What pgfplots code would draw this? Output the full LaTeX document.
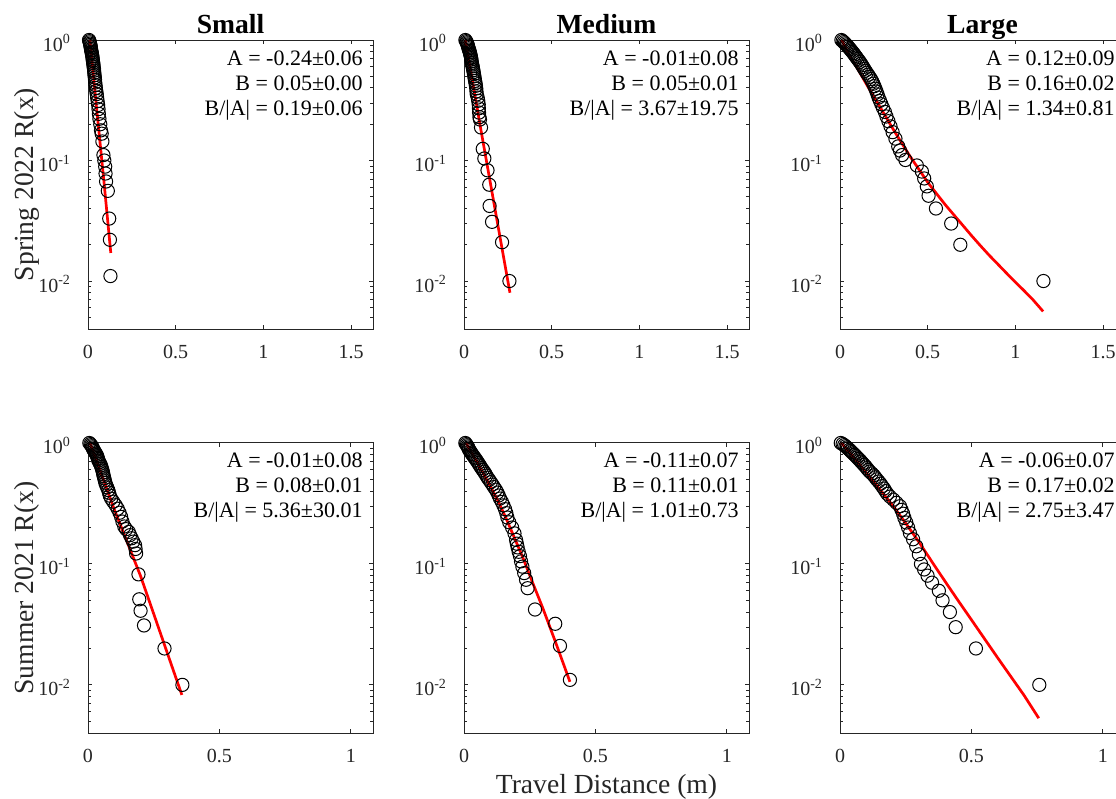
\documentclass[border=0pt]{standalone}
\usepackage{fontspec}
\setmainfont{Liberation Serif}
\usepackage{pgfplots}
\usepackage{pgfplotstable}
\pgfplotsset{compat=1.18}

\definecolor{axgray}{rgb}{0.15,0.15,0.15}
\definecolor{fitred}{rgb}{1,0,0}

\pgfplotsset{
  every axis/.append style={
    width=142.5pt, scale only axis,
    ymin=0.004, ymax=1, xmin=0,
    clip=false,
    ytick={0.01,0.1,1},
    yticklabels={10\textsuperscript{-2},10\textsuperscript{-1},10\textsuperscript{0}},
    minor ytick={0.004,0.005,0.006,0.007,0.008,0.009,0.02,0.03,0.04,0.05,0.06,0.07,0.08,0.09,0.2,0.3,0.4,0.5,0.6,0.7,0.8,0.9},
    axis line style={draw=axgray, line width=0.5pt},
    major tick length=2.2pt, minor tick length=1.6pt,
    tick align=inside,
    tick style={draw=axgray, line width=0.5pt},
    ticklabel style={font=\fontsize{10}{12}\selectfont, text=axgray},
    xticklabel style={anchor=base, yshift=-14.5pt},
    yticklabel style={anchor=base east, xshift=-5pt, yshift=-5.5pt},
    title style={font=\fontsize{13.8}{16}\selectfont\bfseries, at={(axis description cs:0.5,1)}, anchor=base, yshift=-2.5pt},
    ylabel style={font=\fontsize{13.8}{16}\selectfont, text=axgray, at={(axis description cs:-0.191,0.5)}, anchor=base},
    xlabel style={font=\fontsize{13.8}{16}\selectfont, text=axgray, at={(axis description cs:0.5,-0.2069)}, anchor=base},
  },
}
\tikzset{
  ranno/.style={anchor=base east, inner sep=0pt, font=\fontsize{11}{13}\selectfont, text=black, xshift=-5pt},
}

% Empirical exceedance R(x) per size class and season
\pgfplotstableread{
x R
0.006 1.000
0.008 0.978
0.010 0.956
0.012 0.933
0.013 0.911
0.015 0.889
0.016 0.867
0.017 0.844
0.018 0.822
0.020 0.800
0.022 0.778
0.023 0.756
0.025 0.733
0.026 0.711
0.027 0.689
0.028 0.667
0.030 0.644
0.031 0.622
0.032 0.600
0.034 0.578
0.035 0.556
0.036 0.533
0.037 0.511
0.039 0.489
0.040 0.467
0.041 0.444
0.043 0.422
0.045 0.400
0.047 0.378
0.050 0.356
0.052 0.333
0.055 0.311
0.058 0.289
0.060 0.267
0.062 0.244
0.065 0.222
0.070 0.200
0.074 0.178
0.078 0.167
0.082 0.144
0.088 0.111
0.093 0.100
0.098 0.089
0.100 0.078
0.103 0.067
0.113 0.056
0.121 0.033
0.125 0.022
0.128 0.011
}\SpSmall

\pgfplotstableread{
x R
0.008 1.000
0.012 0.979
0.015 0.958
0.018 0.938
0.020 0.917
0.022 0.896
0.024 0.875
0.026 0.854
0.028 0.833
0.031 0.813
0.033 0.792
0.035 0.771
0.037 0.750
0.039 0.729
0.041 0.708
0.042 0.688
0.043 0.667
0.045 0.646
0.047 0.625
0.049 0.604
0.051 0.583
0.053 0.563
0.055 0.542
0.057 0.521
0.059 0.500
0.061 0.479
0.063 0.458
0.066 0.438
0.068 0.417
0.070 0.396
0.071 0.375
0.073 0.354
0.078 0.333
0.081 0.313
0.084 0.292
0.085 0.271
0.086 0.250
0.088 0.229
0.091 0.219
0.097 0.188
0.107 0.125
0.116 0.104
0.134 0.083
0.144 0.063
0.146 0.042
0.160 0.031
0.217 0.021
0.259 0.010
}\SpMedium

\pgfplotstableread{
x R
0.008 1.000
0.015 0.980
0.022 0.960
0.028 0.939
0.034 0.919
0.040 0.899
0.046 0.879
0.052 0.859
0.058 0.838
0.064 0.818
0.070 0.798
0.076 0.778
0.082 0.758
0.088 0.737
0.094 0.717
0.100 0.697
0.107 0.677
0.113 0.657
0.120 0.636
0.126 0.616
0.132 0.596
0.138 0.576
0.145 0.556
0.152 0.535
0.160 0.515
0.168 0.495
0.176 0.475
0.183 0.455
0.190 0.434
0.196 0.414
0.202 0.394
0.208 0.374
0.214 0.354
0.220 0.333
0.228 0.313
0.236 0.293
0.245 0.273
0.256 0.253
0.265 0.232
0.276 0.212
0.288 0.192
0.300 0.172
0.316 0.152
0.332 0.131
0.342 0.121
0.354 0.111
0.373 0.101
0.438 0.091
0.467 0.081
0.480 0.071
0.495 0.061
0.505 0.051
0.547 0.040
0.634 0.030
0.686 0.020
1.160 0.010
}\SpLarge

\pgfplotstableread{
x R
0.005 1.000
0.009 0.980
0.012 0.959
0.015 0.939
0.017 0.918
0.019 0.898
0.021 0.878
0.024 0.857
0.027 0.837
0.030 0.816
0.033 0.796
0.035 0.776
0.037 0.755
0.038 0.735
0.040 0.714
0.043 0.694
0.046 0.673
0.049 0.653
0.051 0.633
0.053 0.612
0.055 0.592
0.057 0.571
0.058 0.551
0.060 0.531
0.062 0.510
0.064 0.490
0.066 0.469
0.069 0.449
0.073 0.429
0.077 0.408
0.080 0.388
0.083 0.367
0.088 0.347
0.096 0.327
0.105 0.306
0.113 0.286
0.120 0.265
0.126 0.245
0.131 0.224
0.138 0.204
0.145 0.194
0.155 0.184
0.160 0.173
0.166 0.163
0.172 0.153
0.179 0.143
0.181 0.133
0.183 0.122
0.192 0.082
0.195 0.051
0.200 0.041
0.213 0.031
0.291 0.020
0.359 0.010
}\SuSmall

\pgfplotstableread{
x R
0.005 1.000
0.008 0.979
0.011 0.958
0.014 0.937
0.016 0.916
0.018 0.895
0.020 0.874
0.024 0.853
0.027 0.832
0.030 0.811
0.034 0.789
0.038 0.768
0.042 0.747
0.046 0.726
0.050 0.705
0.054 0.684
0.058 0.663
0.062 0.642
0.066 0.621
0.071 0.600
0.076 0.579
0.081 0.558
0.085 0.537
0.090 0.516
0.096 0.495
0.102 0.474
0.108 0.453
0.114 0.432
0.121 0.411
0.127 0.389
0.132 0.368
0.137 0.347
0.144 0.326
0.150 0.305
0.156 0.284
0.161 0.263
0.165 0.242
0.172 0.221
0.183 0.200
0.192 0.179
0.198 0.158
0.201 0.147
0.204 0.137
0.208 0.126
0.213 0.116
0.217 0.105
0.222 0.095
0.229 0.084
0.236 0.074
0.242 0.063
0.270 0.042
0.347 0.032
0.365 0.021
0.403 0.011
}\SuMedium

\pgfplotstableread{
x R
0.003 1.00
0.010 0.98
0.016 0.96
0.021 0.94
0.026 0.92
0.030 0.90
0.036 0.88
0.040 0.86
0.045 0.84
0.050 0.82
0.055 0.80
0.060 0.78
0.065 0.76
0.070 0.74
0.076 0.72
0.080 0.70
0.086 0.68
0.091 0.66
0.097 0.64
0.102 0.62
0.107 0.60
0.113 0.58
0.121 0.56
0.128 0.54
0.134 0.52
0.140 0.50
0.147 0.48
0.154 0.46
0.160 0.44
0.167 0.42
0.173 0.40
0.180 0.38
0.190 0.36
0.203 0.34
0.215 0.32
0.228 0.30
0.234 0.28
0.240 0.26
0.245 0.24
0.252 0.22
0.259 0.20
0.266 0.18
0.278 0.16
0.290 0.14
0.300 0.12
0.308 0.10
0.320 0.09
0.333 0.08
0.350 0.07
0.376 0.06
0.390 0.05
0.418 0.04
0.440 0.03
0.517 0.02
0.758 0.01
}\SuLarge

\begin{document}
\begin{tikzpicture}
\useasboundingbox (0,0) rectangle (558pt,399.5pt);
\begin{scope}
\clip (0,0) rectangle (558pt,399.5pt);

% ---- Spring 2022 ----
\begin{semilogyaxis}[at={(44pt,235pt)}, anchor=south west,
  height=144.5pt, xmax=1.625, xtick={0,0.5,1,1.5}, xticklabels={0,0.5,1,1.5},
  title={Small}, ylabel={Spring 2022 R(x)}]
  \addplot[only marks, mark=o, mark size=3.3pt, black, mark options={line width=0.5pt}] table[x=x,y=R] {\SpSmall};
  \addplot[no marks, fitred, line width=1.35pt] coordinates {(0.011,1) (0.050,0.262) (0.090,0.069) (0.130,0.0171)};
  \node[ranno, yshift=-12.5pt] at (rel axis cs:1,1) {A = -0.24±0.06};
  \node[ranno, yshift=-25pt] at (rel axis cs:1,1) {B = 0.05±0.00};
  \node[ranno, yshift=-37.5pt] at (rel axis cs:1,1) {B/|A| = 0.19±0.06};
\end{semilogyaxis}

\begin{semilogyaxis}[at={(232pt,235pt)}, anchor=south west,
  height=144.5pt, xmax=1.625, xtick={0,0.5,1,1.5}, xticklabels={0,0.5,1,1.5},
  title={Medium}]
  \addplot[only marks, mark=o, mark size=3.3pt, black, mark options={line width=0.5pt}] table[x=x,y=R] {\SpMedium};
  \addplot[no marks, fitred, line width=1.35pt] coordinates {(0.0074,1) (0.100,0.168) (0.200,0.0256) (0.262,0.0080)};
  \node[ranno, yshift=-12.5pt] at (rel axis cs:1,1) {A = -0.01±0.08};
  \node[ranno, yshift=-25pt] at (rel axis cs:1,1) {B = 0.05±0.01};
  \node[ranno, yshift=-37.5pt] at (rel axis cs:1,1) {B/|A| = 3.67±19.75};
\end{semilogyaxis}

\begin{semilogyaxis}[at={(420pt,235pt)}, anchor=south west,
  height=144.5pt, xmax=1.625, xtick={0,0.5,1,1.5}, xticklabels={0,0.5,1,1.5},
  title={Large}]
  \addplot[only marks, mark=o, mark size=3.3pt, black, mark options={line width=0.5pt}] table[x=x,y=R] {\SpLarge};
  \addplot[no marks, fitred, line width=1.35pt] coordinates {(0.010,1) (0.050,0.76) (0.100,0.580) (0.150,0.432) (0.200,0.325) (0.250,0.246) (0.300,0.185) (0.350,0.141) (0.400,0.108) (0.450,0.0845) (0.500,0.066) (0.550,0.0532) (0.600,0.043) (0.650,0.0353) (0.700,0.029) (0.750,0.0238) (0.800,0.0197) (0.850,0.0164) (0.900,0.0138) (0.950,0.0116) (1.000,0.0098) (1.050,0.0083) (1.100,0.0070) (1.158,0.0056)};
  \node[ranno, yshift=-12.5pt] at (rel axis cs:1,1) {A = 0.12±0.09};
  \node[ranno, yshift=-25pt] at (rel axis cs:1,1) {B = 0.16±0.02};
  \node[ranno, yshift=-37.5pt] at (rel axis cs:1,1) {B/|A| = 1.34±0.81};
\end{semilogyaxis}

% ---- Summer 2021 ----
\begin{semilogyaxis}[at={(44pt,33pt)}, anchor=south west,
  height=145pt, xmax=1.084, xtick={0,0.5,1}, xticklabels={0,0.5,1},
  ylabel={Summer 2021 R(x)}]
  \addplot[only marks, mark=o, mark size=3.3pt, black, mark options={line width=0.5pt}] table[x=x,y=R] {\SuSmall};
  \addplot[no marks, fitred, line width=1.35pt] coordinates {(0.0076,1) (0.100,0.282) (0.200,0.0794) (0.357,0.00826)};
  \node[ranno, yshift=-12.5pt] at (rel axis cs:1,1) {A = -0.01±0.08};
  \node[ranno, yshift=-25pt] at (rel axis cs:1,1) {B = 0.08±0.01};
  \node[ranno, yshift=-37.5pt] at (rel axis cs:1,1) {B/|A| = 5.36±30.01};
\end{semilogyaxis}

\begin{semilogyaxis}[at={(232pt,33pt)}, anchor=south west,
  height=145pt, xmax=1.084, xtick={0,0.5,1}, xticklabels={0,0.5,1},
  xlabel={Travel Distance (m)}]
  \addplot[only marks, mark=o, mark size=3.3pt, black, mark options={line width=0.5pt}] table[x=x,y=R] {\SuMedium};
  \addplot[no marks, fitred, line width=1.35pt] coordinates {(0.0076,1) (0.050,0.69) (0.096,0.455) (0.130,0.330) (0.160,0.238) (0.190,0.168) (0.223,0.114) (0.260,0.071) (0.300,0.043) (0.350,0.022) (0.403,0.0106)};
  \node[ranno, yshift=-12.5pt] at (rel axis cs:1,1) {A = -0.11±0.07};
  \node[ranno, yshift=-25pt] at (rel axis cs:1,1) {B = 0.11±0.01};
  \node[ranno, yshift=-37.5pt] at (rel axis cs:1,1) {B/|A| = 1.01±0.73};
\end{semilogyaxis}

\begin{semilogyaxis}[at={(420pt,33pt)}, anchor=south west,
  height=145pt, xmax=1.084, xtick={0,0.5,1}, xticklabels={0,0.5,1}]
  \addplot[only marks, mark=o, mark size=3.3pt, black, mark options={line width=0.5pt}] table[x=x,y=R] {\SuLarge};
  \addplot[no marks, fitred, line width=1.35pt] coordinates {(0.005,1) (0.050,0.766) (0.100,0.566) (0.150,0.417) (0.200,0.305) (0.250,0.217) (0.300,0.152) (0.350,0.104) (0.400,0.0715) (0.450,0.0495) (0.500,0.0345) (0.550,0.0240) (0.600,0.0167) (0.650,0.0117) (0.700,0.0082) (0.756,0.0053)};
  \node[ranno, yshift=-12.5pt] at (rel axis cs:1,1) {A = -0.06±0.07};
  \node[ranno, yshift=-25pt] at (rel axis cs:1,1) {B = 0.17±0.02};
  \node[ranno, yshift=-37.5pt] at (rel axis cs:1,1) {B/|A| = 2.75±3.47};
\end{semilogyaxis}

\end{scope}
\end{tikzpicture}
\end{document}
